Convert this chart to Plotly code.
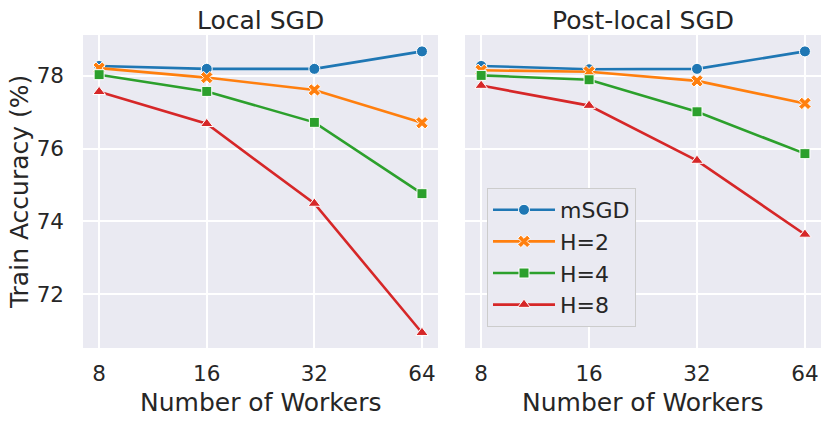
import plotly.graph_objects as go

workers = [8, 16, 32, 64]
tick_labels = ["8", "16", "32", "64"]
series_names = ["mSGD", "H=2", "H=4", "H=8"]

local_msgd = [78.27, 78.19, 78.19, 78.67]
local_h2 = [78.21, 77.95, 77.61, 76.71]
local_h4 = [78.03, 77.57, 76.72, 74.76]
local_h8 = [77.56, 76.68, 74.49, 70.94]

post_msgd = [78.27, 78.18, 78.19, 78.67]
post_h2 = [78.15, 78.11, 77.86, 77.24]
post_h4 = [78.01, 77.89, 77.01, 75.86]
post_h8 = [77.73, 77.18, 75.67, 73.64]

y_ticks = [72, 74, 76, 78]

colors = ["#1f77b4", "#ff7f0e", "#2ca02c", "#d62728"]
symbols = ["circle", "x", "square", "triangle-up"]
sizes = [11, 11, 10, 11]

FONT = "DejaVu Sans"
TXT = "#262626"
BG = "#EAEAF2"

# page body has an 8px margin; figure is drawn at (8, 8)
OFF = 8
W, H = 830 - OFF, 424 - OFF


def px(x):
    return (x - OFF) / W


def py(y):
    return 1 - (y - OFF) / H


fig = go.Figure()
local = [local_msgd, local_h2, local_h4, local_h8]
post = [post_msgd, post_h2, post_h4, post_h8]
for i, name in enumerate(series_names):
    fig.add_trace(go.Scatter(
        x=workers, y=local[i], name=name, mode="lines+markers",
        line=dict(color=colors[i], width=2.6),
        marker=dict(symbol=symbols[i], size=sizes[i], color=colors[i],
                    line=dict(color="white", width=1)),
        xaxis="x", yaxis="y", showlegend=False))
for i, name in enumerate(series_names):
    fig.add_trace(go.Scatter(
        x=workers, y=post[i], name=name, mode="lines+markers",
        line=dict(color=colors[i], width=2.6),
        marker=dict(symbol=symbols[i], size=sizes[i], color=colors[i],
                    line=dict(color="white", width=1)),
        xaxis="x2", yaxis="y2", showlegend=True))

xr = [0.858, 1.851]
yr = [70.52, 79.12]
common_x = dict(type="log", range=xr, tickvals=workers, ticktext=tick_labels,
                showgrid=True, gridcolor="white", gridwidth=1.6, zeroline=False,
                showline=False, ticks="", tickfont=dict(size=21.5, color=TXT, family=FONT),
                ticklabelstandoff=10)
common_y = dict(range=yr, tickvals=y_ticks, showgrid=True, gridcolor="white",
                gridwidth=1.6, zeroline=False, showline=False, ticks="")

L1, R1, L2, R2 = px(83), px(438), px(465), px(821)
TOP, BOT = py(35), py(348)

fig.update_layout(
    width=W, height=H,
    margin=dict(l=0, r=0, t=0, b=0),
    paper_bgcolor="white", plot_bgcolor=BG,
    font=dict(family=FONT, color=TXT),
    xaxis=dict(domain=[L1, R1], anchor="y", **common_x),
    yaxis=dict(domain=[BOT, TOP], anchor="x",
               tickfont=dict(size=21.5, color=TXT, family=FONT),
               ticklabelstandoff=18, **common_y),
    xaxis2=dict(domain=[L2, R2], anchor="y2", **common_x),
    yaxis2=dict(domain=[BOT, TOP], anchor="x2", showticklabels=False, **common_y),
    legend=dict(x=px(487), y=py(188), xanchor="left", yanchor="top",
                bgcolor=BG, bordercolor="#cccccc", borderwidth=1,
                font=dict(size=22, color=TXT, family=FONT),
                itemwidth=62, tracegroupgap=0),
    annotations=[
        dict(text="Local SGD", x=(L1 + R1) / 2, y=py(20), xref="paper", yref="paper",
             showarrow=False, font=dict(size=25, color=TXT, family=FONT),
             xanchor="center", yanchor="middle"),
        dict(text="Post-local SGD", x=(L2 + R2) / 2, y=py(20), xref="paper", yref="paper",
             showarrow=False, font=dict(size=25, color=TXT, family=FONT),
             xanchor="center", yanchor="middle"),
        dict(text="Number of Workers", x=(L1 + R1) / 2, y=py(402), xref="paper", yref="paper",
             showarrow=False, font=dict(size=25, color=TXT, family=FONT),
             xanchor="center", yanchor="middle"),
        dict(text="Number of Workers", x=(L2 + R2) / 2, y=py(402), xref="paper", yref="paper",
             showarrow=False, font=dict(size=25, color=TXT, family=FONT),
             xanchor="center", yanchor="middle"),
        dict(text="Train Accuracy (%)", x=px(19), y=py(192), xref="paper", yref="paper",
             showarrow=False, textangle=-90, font=dict(size=25, color=TXT, family=FONT),
             xanchor="center", yanchor="middle"),
    ],
)

fig.write_html("out.html")
